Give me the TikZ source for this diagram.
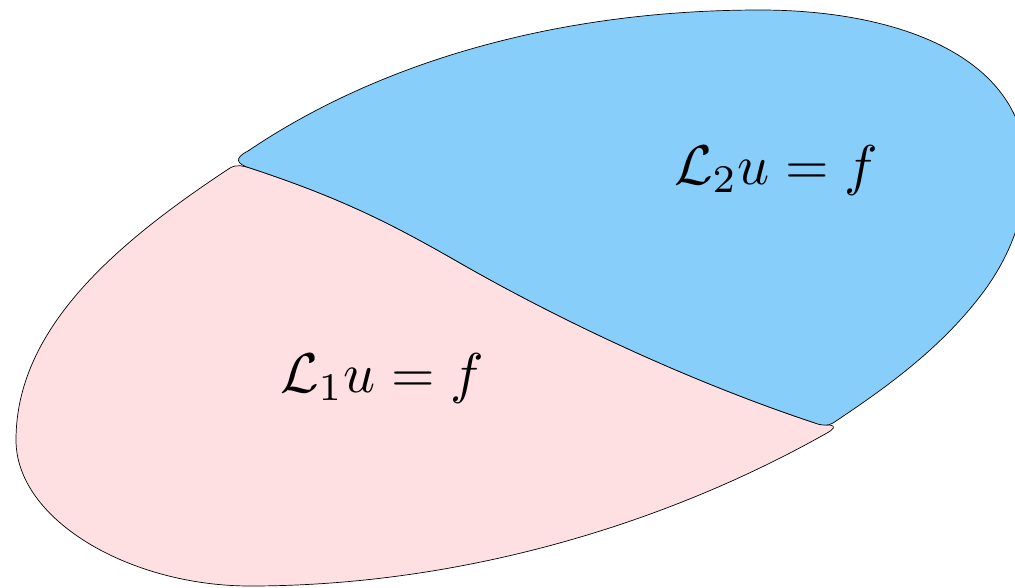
\documentclass[tikz,border=0pt]{standalone}
\definecolor{pinkfill}{RGB}{254,224,226}
\definecolor{bluefill}{RGB}{135,206,250}
\tikzset{region/.style={draw=black,line width=0.7pt,line join=round}}
\begin{document}
\begin{tikzpicture}[x=1pt,y=-1pt]
\useasboundingbox (0,0) rectangle (1015,587);
\clip (0,0) rectangle (1015,587);
\coordinate (ia) at (815,423);
\coordinate (ib) at (250,168);
% pink region
\draw[region,fill=pinkfill] (ib) .. controls (243,166) and (237,164) .. (230,168)
  .. controls (113,245) and (16,330) .. (16,440)
  .. controls (16,520) and (130,586) .. (250,586)
  .. controls (450,586) and (655,530) .. (827,433)
  .. controls (834,429) and (836,426) .. (830,425)
  .. controls (826,425) and (820,424.5) .. (ia)
  .. controls (700,385) and (570,326) .. (460,263)
  .. controls (390,222.75) and (340,197.7) .. (ib) -- cycle;
% blue region
\draw[region,fill=bluefill] (ia)
  .. controls (700,385) and (570,326) .. (460,263)
  .. controls (390,222.75) and (340,197.7) .. (ib)
  .. controls (236,164) and (234,158) .. (248,151)
  .. controls (381,61) and (560,10) .. (760,10)
  .. controls (900,10) and (1027,58) .. (1026,170)
  .. controls (1026,215) and (1010,254) .. (987,287)
  .. controls (946,344) and (891,384.5) .. (833,423)
  .. controls (829,425.7) and (822,426) .. (ia) -- cycle;
\node[scale=5.6] (t1) at (382,378) {$\mathcal{L}_1u=f$};
\node[scale=5.6] (t2) at (776,170) {$\mathcal{L}_2u=f$};
\end{tikzpicture}
\end{document}
